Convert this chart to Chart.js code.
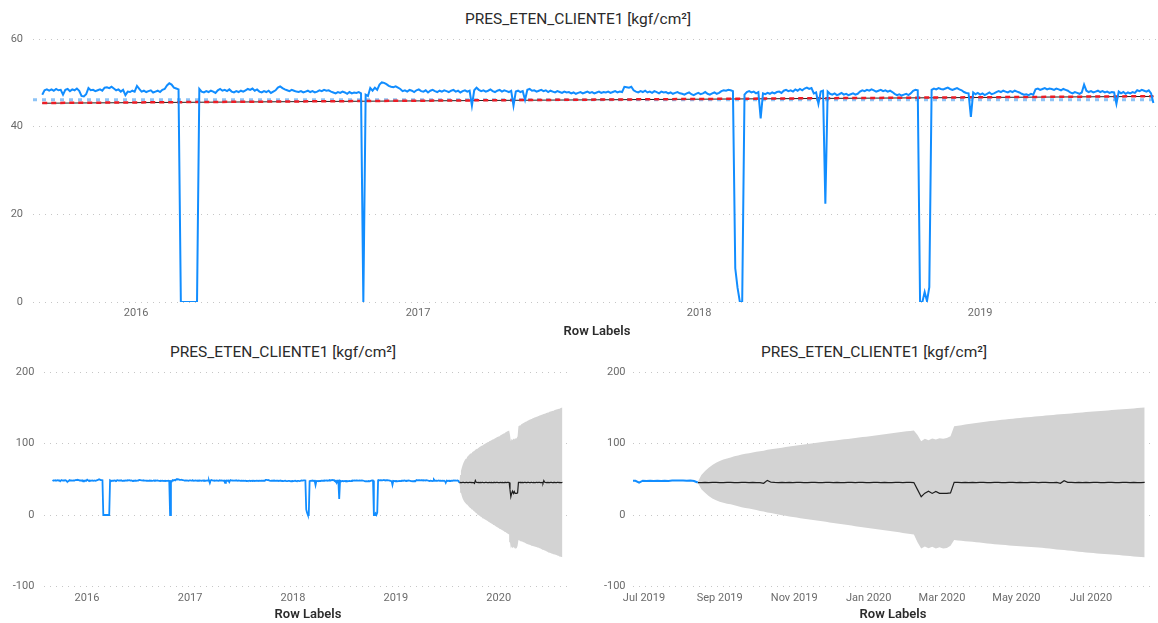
<!DOCTYPE html>
<html>
<head>
<meta charset="utf-8">
<script src="https://cdn.jsdelivr.net/npm/chart.js"></script>
<style>
  html, body { margin: 0; padding: 0; background: #fff; width: 1158px; height: 623px; overflow: hidden; font-family: Roboto, sans-serif; }
  canvas { position: absolute; }
  .title { position: absolute; font-size: 15.5px; color: #2b2b2b; white-space: nowrap; transform: translateX(-50%); line-height: 1; }
  .axis-title { position: absolute; font-size: 13px; font-weight: 600; color: #2b2b2b; white-space: nowrap; transform: translateX(-50%); line-height: 1; }
</style>
</head>
<body>
<div class="title" style="left:578px; top:11.5px;">PRES_ETEN_CLIENTE1 [kgf/cm²]</div>
<div class="title" style="left:283px; top:345px;">PRES_ETEN_CLIENTE1 [kgf/cm²]</div>
<div class="title" style="left:874px; top:345px;">PRES_ETEN_CLIENTE1 [kgf/cm²]</div>
<canvas id="top" width="1158" height="340" style="left:0; top:0;"></canvas>
<canvas id="histAll" width="580" height="283" style="left:0; top:340px;"></canvas>
<canvas id="forecastZoom" width="578" height="283" style="left:580px; top:340px;"></canvas>
<div class="axis-title" style="left:597px; top:324px;">Row Labels</div>
<div class="axis-title" style="left:308px; top:607px;">Row Labels</div>
<div class="axis-title" style="left:893px; top:607px;">Row Labels</div>

<script>
// Daily pressure readings, one value every 3 days from the start date
const actualStart = '2015-09-01';
const actualStepDays = 3;
const actualValues = [
  47.3, 48.3, 48.5, 48.2, 48.5, 48.2, 48.6, 48.3, 48.4, 47.3, 48.4, 48.6, 48.1, 48.5, 48.3, 48.7, 48.2, 47.0, 46.9, 47.4,
  48.8, 48.3, 48.4, 48.1, 48.3, 48.5, 48.2, 48.9, 49.0, 48.8, 49.1, 48.7, 48.3, 48.5, 48.0, 48.4, 47.2, 48.0, 47.9, 48.2,
  48.0, 49.3, 48.6, 48.0, 48.2, 47.9, 48.1, 48.3, 47.8, 48.0, 48.2, 47.9, 48.4, 48.6, 49.4, 49.9, 49.6, 48.9, 48.7, 48.5,
  0, 0, 0, 0, 0, 0, 0, 0, 48.6, 48.0, 47.8, 48.1, 47.9, 48.2, 48.0, 47.7, 48.3, 48.6, 48.2, 48.4,
  48.1, 48.5, 48.0, 47.8, 48.1, 47.9, 48.2, 48.0, 48.3, 48.6, 48.4, 48.7, 48.2, 48.5, 48.0, 47.8, 48.1, 47.9, 48.2, 47.7,
  48.0, 48.3, 48.9, 49.2, 48.8, 48.5, 48.3, 48.1, 48.4, 48.2, 48.0, 47.9, 48.1, 47.8, 48.0, 48.2, 47.9, 48.1, 47.8, 48.0,
  48.3, 48.1, 48.4, 48.2, 48.3, 48.0, 47.8, 47.6, 47.9, 47.7, 48.0, 47.8, 47.5, 47.9, 47.6, 47.8, 47.7, 47.9, 47.6, 0,
  47.3, 47.0, 48.8, 48.2, 48.9, 48.4, 49.6, 50.1, 50.0, 49.7, 49.3, 49.1, 49.0, 49.2, 48.9, 48.6, 48.1, 48.3, 48.0, 48.4,
  48.2, 47.9, 48.3, 48.5, 48.1, 48.0, 48.3, 47.8, 48.2, 48.4, 48.1, 47.9, 48.2, 48.0, 48.3, 48.1, 47.9, 48.2, 48.4, 48.0,
  48.2, 47.8, 48.1, 48.3, 48.0, 48.2, 44.8, 48.3, 48.9, 48.4, 48.1, 48.3, 48.0, 48.2, 48.5, 48.1, 47.9, 48.2, 48.4, 48.0,
  48.3, 48.1, 47.9, 48.2, 44.8, 48.0, 48.2, 47.9, 48.1, 46.1, 48.4, 48.6, 48.2, 48.3, 48.0, 48.2, 48.4, 48.1, 48.3, 47.9,
  48.2, 48.0, 47.8, 48.1, 47.9, 47.7, 48.0, 47.8, 47.9, 47.6, 47.8, 47.5, 47.7, 47.9, 47.6, 47.8, 48.0, 47.7, 47.9, 47.6,
  47.8, 48.0, 47.7, 47.9, 47.8, 48.0, 47.7, 47.9, 48.1, 47.8, 48.0, 47.9, 49.1, 49.0, 48.9, 49.1, 48.3, 48.0, 47.8, 48.1,
  47.9, 48.2, 47.8, 48.0, 47.7, 48.1, 47.9, 47.6, 48.0, 47.8, 47.9, 47.6, 47.8, 47.5, 47.7, 47.9, 47.6, 47.5, 47.3, 47.6,
  47.8, 47.4, 47.2, 47.5, 47.7, 47.4, 47.6, 47.9, 47.5, 47.3, 47.6, 47.8, 47.5, 47.7, 48.1, 48.3, 48.2, 48.4, 48.3, 48.1,
  7.7, 3.2, 0, 0, 47.3, 47.9, 48.1, 47.8, 48.0, 47.6, 47.9, 41.9, 47.6, 47.4, 47.7, 47.5, 47.8, 47.6, 47.9, 48.0,
  47.7, 48.2, 48.4, 48.1, 48.3, 48.0, 48.5, 48.2, 48.6, 48.3, 48.7, 48.9, 48.6, 48.8, 47.6, 47.8, 45.2, 48.0, 48.2, 22.4,
  48.0, 47.5, 47.3, 47.6, 47.2, 47.4, 47.7, 47.3, 47.5, 47.2, 47.4, 47.6, 47.3, 47.5, 48.0, 48.3, 48.1, 48.4, 48.2, 48.5,
  48.3, 48.0, 48.2, 48.4, 48.1, 48.3, 48.0, 48.2, 47.9, 47.5, 47.2, 47.4, 47.1, 47.3, 47.5, 47.2, 47.6, 48.2, 48.4, 48.3,
  0, 0, 2.3, 0.2, 3.4, 48.4, 48.7, 48.5, 48.8, 48.6, 48.5, 48.7, 48.9, 48.6, 48.4, 48.6, 48.8, 48.5, 48.3, 47.9,
  47.7, 47.6, 42.2, 47.8, 47.4, 47.7, 47.3, 47.6, 47.2, 47.5, 47.8, 47.4, 47.6, 47.9, 48.1, 47.9, 48.2, 48.0, 47.8, 48.1,
  47.9, 48.2, 48.0, 47.8, 47.5, 47.3, 47.4, 47.2, 47.5, 47.3, 48.5, 48.7, 48.4, 48.6, 48.8, 48.5, 48.7, 48.6, 48.4, 48.7,
  48.5, 48.3, 48.6, 48.4, 48.2, 47.8, 47.6, 47.9, 47.7, 47.5, 47.8, 49.6, 48.2, 47.9, 48.1, 47.8, 48.0, 48.2, 47.9, 48.1,
  47.8, 48.0, 47.7, 47.9, 47.8, 45.2, 48.0, 47.6, 47.9, 47.5, 47.8, 47.6, 47.9, 47.7, 48.3, 48.1, 48.4, 48.2, 48.0, 48.3,
  47.6, 45.4
];

// One-year forecast with its confidence band, one value every 3 days
const forecastStart = '2019-08-14';
const forecastStepDays = 3;
const forecastValues = [
  45.4, 45.3, 45.5, 45.4, 45.6, 45.5, 45.3, 45.4, 45.6, 45.5, 45.4, 45.3, 45.5, 45.6, 45.4, 45.5, 45.3, 45.4, 44.3, 48.4,
  45.8, 45.5, 45.4, 45.6, 45.3, 45.5, 45.4, 45.6, 45.5, 45.3, 45.4, 45.6, 45.5, 45.4, 45.3, 45.5, 45.6, 45.4, 45.5, 45.3,
  45.4, 45.6, 45.5, 45.4, 45.6, 45.5, 45.3, 45.4, 45.5, 45.6, 45.4, 45.5, 45.3, 45.4, 45.6, 45.5, 45.4, 45.5, 45.6, 45.4,
  35.5, 25.5, 30.5, 33.4, 30.2, 33.0, 30.3, 30.2, 30.3, 31.0, 45.6, 45.5, 45.4, 45.6, 45.3, 45.5, 45.4, 45.6, 45.5, 45.3,
  45.4, 45.6, 45.5, 45.4, 45.3, 45.5, 45.6, 45.4, 45.5, 45.3, 45.4, 45.6, 45.5, 45.4, 45.6, 45.5, 45.3, 45.4, 45.5, 44.3,
  48.0, 45.7, 45.5, 45.4, 45.6, 45.3, 45.5, 45.4, 45.6, 45.5, 45.3, 45.4, 45.6, 45.5, 45.4, 45.3, 45.5, 45.6, 45.4, 45.5,
  45.3, 45.4, 45.5
];
const forecastUpper = [
  46.0, 56, 61.5, 66, 70, 73, 75.5, 77.5, 79, 80.5,
  82, 83.3, 84.6, 85.7, 86.5, 87.5, 88.4, 89.2, 90, 91.2,
  91.8, 92.7, 93.4, 94.2, 95, 95.8, 96.5, 97.2, 98, 98.6,
  99.3, 100, 100.6, 101.4, 102.1, 102.8, 103.4, 104, 104.6, 105.2,
  105.8, 106.4, 107, 107.7, 108.3, 109, 109.6, 110.2, 110.9, 111.6,
  112.3, 113, 113.7, 114.4, 115, 115.6, 116.3, 117, 117.6, 118.3,
  112, 103, 106.5, 104.5, 107, 105.5, 107.5, 106.8, 107.6, 110,
  124, 124.8, 125.6, 126.4, 127.2, 128, 128.7, 129.4, 130, 130.7,
  131.3, 131.9, 132.5, 133.1, 133.7, 134.2, 134.7, 135.2, 135.7, 136.2,
  136.7, 137.2, 137.7, 138.1, 138.6, 139.1, 139.6, 140, 140.4, 140.8,
  141.2, 141.6, 142, 142.5, 143, 143.4, 143.9, 144.3, 144.7, 145.1,
  145.5, 145.9, 146.3, 146.7, 147.1, 147.5, 147.9, 148.3, 148.7, 149.1,
  149.5, 149.9, 150.3
];
const forecastLower = [
  45.0, 36, 31, 26.5, 23, 20.5, 18.5, 17, 15.8, 14.9,
  13.5, 12.2, 11, 9.9, 9, 8, 7, 5.6, 4.8, 3.5,
  2.8, 1.9, 0.8, -0.2, -1.1, -2, -2.8, -3.6, -4.4, -5.1,
  -5.8, -6.6, -7.3, -8, -8.8, -9.6, -10.4, -11.1, -11.8, -12.5,
  -13.2, -14, -14.8, -15.7, -16.5, -17.3, -18, -18.7, -19.4, -20.1,
  -20.8, -21.5, -22.1, -22.7, -23.4, -24.2, -25, -25.8, -26.6, -27.4,
  -38, -47, -44, -46.5, -44.5, -47, -45, -46.8, -46.2, -43,
  -35, -35.6, -36.1, -36.6, -37, -37.5, -38, -38.6, -39.2, -39.7,
  -40.3, -40.8, -41.3, -41.7, -42.1, -42.5, -42.9, -43.3, -43.7, -44,
  -44.4, -44.7, -45, -45.4, -45.9, -46.5, -47, -47.6, -48.1, -48.6,
  -49, -49.5, -50.1, -50.7, -51.3, -51.8, -52.3, -52.8, -53.3, -53.7,
  -54.1, -54.5, -54.9, -55.3, -55.7, -56.1, -56.5, -57, -57.5, -58,
  -58.4, -58.8, -59.2
];

// Analytics lines on the history chart
const averageValue = 46.15;
const trendDates = ['2015-09-01', '2019-08-14'];
const trendValues = [45.4, 46.95];
const fitValues = [45.35, 46.9];

// Axis ticks
const historyTickDates = ['2016-01-01', '2017-01-01', '2018-01-01', '2019-01-01'];
const historyTickLabels = ['2016', '2017', '2018', '2019'];
const allTickDates = ['2016-01-01', '2017-01-01', '2018-01-01', '2019-01-01', '2020-01-01'];
const allTickLabels = ['2016', '2017', '2018', '2019', '2020'];
const zoomTickDates = ['2019-07-01', '2019-09-01', '2019-11-01', '2020-01-01', '2020-03-01', '2020-05-01', '2020-07-01'];
const zoomTickLabels = ['Jul 2019', 'Sep 2019', 'Nov 2019', 'Jan 2020', 'Mar 2020', 'May 2020', 'Jul 2020'];

const BLUE = '#118DFF';
const TICK_COLOR = '#6b6b6b';
const GRID_COLOR = '#c6c6c6';

function day(s) { return Date.parse(s + 'T00:00:00Z') / 86400000; }
function series(start, step, values) {
  const d0 = day(start);
  return values.map((v, i) => ({ x: d0 + i * step, y: v }));
}

const actualPts = series(actualStart, actualStepDays, actualValues);
const forecastPts = series(forecastStart, forecastStepDays, forecastValues);
const upperPts = series(forecastStart, forecastStepDays, forecastUpper);
const lowerPts = series(forecastStart, forecastStepDays, forecastLower);

Chart.defaults.font.family = 'Roboto, sans-serif';
Chart.defaults.animation = false;

function xScale(minDate, maxDate, tickDates, tickLabels) {
  const vals = tickDates.map(day);
  return {
    type: 'linear',
    min: day(minDate),
    max: day(maxDate),
    grid: { display: false, drawTicks: false },
    border: { display: false },
    afterBuildTicks: s => { s.ticks = vals.map(v => ({ value: v })); },
    afterFit: s => { s.height = 20; },
    ticks: {
      autoSkip: false, maxRotation: 0, padding: 5, color: TICK_COLOR,
      font: { size: 11 },
      callback: v => { const k = vals.indexOf(v); return k >= 0 ? tickLabels[k] : ''; }
    }
  };
}

function yScale(min, max, step, width, pad) {
  return {
    type: 'linear',
    min: min, max: max,
    afterFit: s => { s.width = width; },
    grid: { color: GRID_COLOR, lineWidth: 1, drawTicks: false },
    border: { display: false, dash: [1, 5] },
    ticks: { stepSize: step, padding: pad, color: TICK_COLOR, font: { size: 11 } }
  };
}

const baseLine = { pointRadius: 0, pointHoverRadius: 0, tension: 0, fill: false };

// History with average and trend lines
new Chart(document.getElementById('top'), {
  type: 'line',
  data: {
    datasets: [
      Object.assign({}, baseLine, { data: actualPts, borderColor: BLUE, borderWidth: 2, order: 0 }),
      Object.assign({}, baseLine, {
        data: trendDates.map((d, i) => ({ x: day(d), y: trendValues[i] })),
        borderColor: '#ee1c25', borderWidth: 2.5, borderDash: [5, 4], order: 1
      }),
      Object.assign({}, baseLine, {
        data: trendDates.map((d, i) => ({ x: day(d), y: fitValues[i] })),
        borderColor: '#222222', borderWidth: 1, order: 2
      }),
      Object.assign({}, baseLine, {
        data: [{ x: day('2015-08-20'), y: averageValue }, { x: day('2019-08-20'), y: averageValue }],
        borderColor: '#8ec4f6', borderWidth: 3, borderDash: [4, 5], order: 3
      })
    ]
  },
  options: {
    responsive: false,
    layout: { padding: { top: 39, right: 0, bottom: 18, left: 0 } },
    plugins: { legend: { display: false }, tooltip: { enabled: false } },
    scales: {
      x: xScale('2015-08-20', '2019-08-20', historyTickDates, historyTickLabels),
      y: yScale(0, 60, 20, 33, 10)
    }
  }
});

function forecastDatasets(lineWidth) {
  return [
    Object.assign({}, baseLine, { data: actualPts, borderColor: BLUE, borderWidth: lineWidth, order: 0 }),
    Object.assign({}, baseLine, { data: forecastPts, borderColor: '#1e1e1e', borderWidth: 1.2, order: 1 }),
    Object.assign({}, baseLine, { data: upperPts, borderWidth: 0, borderColor: 'rgba(0,0,0,0)', backgroundColor: '#d3d3d3', fill: '+1', order: 2 }),
    Object.assign({}, baseLine, { data: lowerPts, borderWidth: 0, borderColor: 'rgba(0,0,0,0)', order: 3 })
  ];
}

// Full history plus forecast
new Chart(document.getElementById('histAll'), {
  type: 'line',
  data: { datasets: forecastDatasets(1.8) },
  options: {
    responsive: false,
    layout: { padding: { top: 32, right: 8, bottom: 16.5, left: 0 } },
    plugins: { legend: { display: false }, tooltip: { enabled: false } },
    scales: {
      x: xScale('2015-08-03', '2020-09-17', allTickDates, allTickLabels),
      y: yScale(-100, 200, 100, 44.4, 10)
    }
  }
});

// Forecast period close-up
new Chart(document.getElementById('forecastZoom'), {
  type: 'line',
  data: { datasets: forecastDatasets(2) },
  options: {
    responsive: false,
    layout: { padding: { top: 32, right: 6, bottom: 16.5, left: 0 } },
    plugins: { legend: { display: false }, tooltip: { enabled: false } },
    scales: {
      x: xScale('2019-06-22', '2020-08-20', zoomTickDates, zoomTickLabels),
      y: yScale(-100, 200, 100, 53, 7.5)
    }
  }
});
</script>
</body>
</html>
